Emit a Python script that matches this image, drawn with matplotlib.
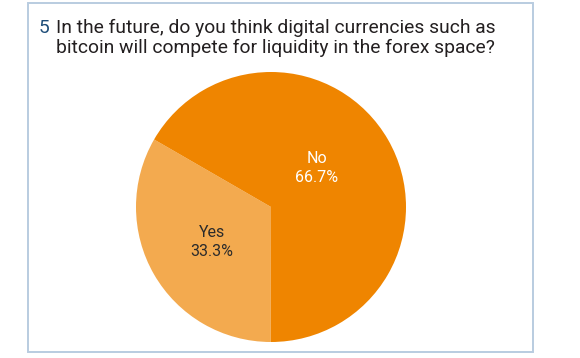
import matplotlib
matplotlib.use('Agg')
import matplotlib.pyplot as plt
from matplotlib.patches import Rectangle


QUESTION_NO = '5'
QUESTION_LINES = ['In the future, do you think digital currencies such as',
                  'bitcoin will compete for liquidity in the forex space?']
LABELS = ['Yes', 'No']
SHARES = [33.3, 66.7]
COLORS = ['#F3AA4F', '#EF8500']
TEXT_COLORS = ['#2B2B2B', '#FFFFFF']

W, H = 580, 358

plt.rcParams['font.family'] = ['Roboto', 'DejaVu Sans']


def px(x, y):
    # pixel coords (top-left origin) -> figure fraction
    return x / W, 1 - y / H


fig = plt.figure(figsize=(W / 100, H / 100), dpi=100)
fig.patch.set_facecolor('white')

# frame
x0, y0 = px(28, 352)
x1, y1 = px(533, 3)
fig.patches.append(Rectangle((x0, y0), x1 - x0, y1 - y0, transform=fig.transFigure,
                             fill=False, edgecolor='#B9CCE0', linewidth=1.4))

# pie, centre (271, 207), radius 135 px
cx, cy, r = 271, 207, 135
left, bottom = px(cx - r, cy + r)
ax = fig.add_axes([left, bottom, 2 * r / W, 2 * r / H])
wedges, texts, autotexts = ax.pie(
    SHARES, colors=COLORS, startangle=150, counterclock=True,
    autopct=lambda p: '', pctdistance=0.5,
    wedgeprops={'linewidth': 0})
ax.set_xlim(-1, 1)
ax.set_ylim(-1, 1)
for at, lab, val, tc in zip(autotexts, LABELS, SHARES, TEXT_COLORS):
    at.set_text(f'{lab}\n{val:.1f}%')
    at.set_color(tc)
    at.set_fontsize(11.5)
    at.set_linespacing(1.3)
autotexts[0].set_position((-0.44, -0.26))
autotexts[1].set_position((0.34, 0.29))

# title
title_size = 15
fig.text(*px(39, 33), QUESTION_NO, color='#1F4E79', fontsize=title_size, va='baseline')
t1 = fig.text(*px(56, 33), QUESTION_LINES[0], color='#231F20', fontsize=title_size, va='baseline')
t2 = fig.text(*px(56, 53), QUESTION_LINES[1], color='#231F20', fontsize=title_size, va='baseline')

fig.canvas.draw()
scale = 440 / t1.get_window_extent().width
for t in fig.texts:
    t.set_fontsize(title_size * scale)

fig.savefig('out.png', dpi=100)
